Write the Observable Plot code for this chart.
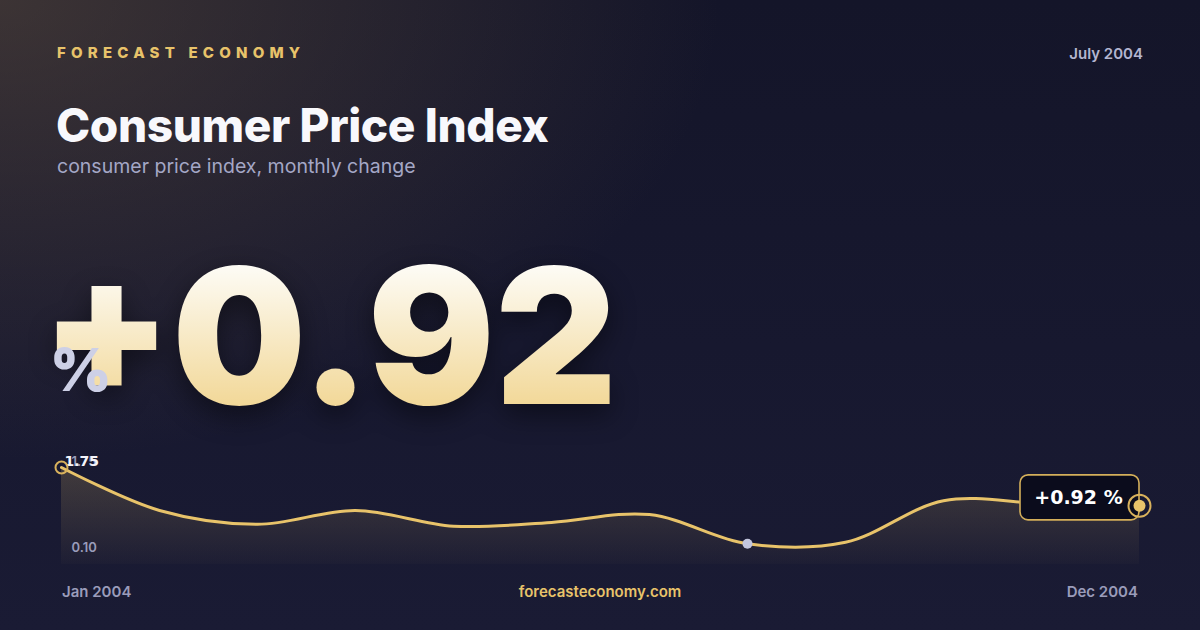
<!DOCTYPE html>
<html><head><meta charset="utf-8">
<script src="https://cdn.jsdelivr.net/npm/d3@7"></script>
<script src="https://cdn.jsdelivr.net/npm/@observablehq/plot@0.6"></script>
<style>
html,body{margin:0;padding:0;}
body{width:1200px;height:630px;overflow:hidden;position:relative;font-family:Inter,"Noto Sans",sans-serif;
background:
 radial-gradient(ellipse 720px 460px at 0% 0%, rgba(100,82,64,0.5), rgba(100,82,64,0) 100%),
 linear-gradient(180deg,#141529 0%,#17182f 55%,#1a1b34 100%);}
.brand{position:absolute;left:57px;top:43px;font-size:15px;font-weight:800;letter-spacing:5.2px;color:#e8c36a;white-space:nowrap;}
.date{position:absolute;right:57px;top:44px;font-size:15px;font-weight:600;color:#b3b5d0;}
.title{position:absolute;left:56px;top:97px;font-size:46px;font-weight:800;color:#f8f8fc;letter-spacing:-0.4px;white-space:nowrap;}
.sub{position:absolute;left:57px;top:154px;font-size:19.5px;font-weight:400;color:#a4a7c6;white-space:nowrap;}
.big{position:absolute;left:41px;top:241px;font-family:Inter,sans-serif;font-size:189px;font-weight:900;line-height:1;white-space:nowrap;
 background:linear-gradient(180deg,#fdfcf8 0%,#fdfbf4 14%,#f2d898 87%,#f2d898 100%);
 -webkit-background-clip:text;background-clip:text;color:transparent;
 filter:drop-shadow(0 10px 14px rgba(0,0,0,0.45));}
.pct{position:absolute;left:50px;top:340px;font-family:Inter,sans-serif;font-size:59px;font-weight:900;line-height:1;color:#cdd0e6;}
#chart{position:absolute;left:0;top:440px;}
.foot{position:absolute;top:582px;font-size:15px;font-weight:600;color:#9a9cba;}
.foot.l{left:62px;}
.foot.r{right:62px;}
.foot.c{left:0;width:1200px;text-align:center;color:#e8c36a;}
</style></head>
<body>
<div class="brand">FORECAST ECONOMY</div>
<div class="date" id="date"></div>
<div class="title">Consumer Price Index</div>
<div class="sub">consumer price index, monthly change</div>
<div class="big" id="big"></div>
<div class="pct">%</div>
<div id="chart"></div>
<div class="foot l" id="fl"></div>
<div class="foot c">forecasteconomy.com</div>
<div class="foot r" id="fr"></div>
<script>
const months = ["Jan","Feb","Mar","Apr","May","Jun","Jul","Aug","Sep","Oct","Nov","Dec"];
const values = [1.75,0.82,0.52,0.82,0.48,0.56,0.73,0.10,0.13,1.03,0.97,0.92];
const startLabel = "Jan 2004";
const endLabel = "Dec 2004";
const dateLabel = "July 2004";
const yDomain = [-0.35, 1.75];

const data = months.map((m,i)=>({month:m, value:values[i]}));
const last = data[data.length-1];
const first = data[0];
const minV = d3.min(values), maxV = d3.max(values);
const minD = data[values.indexOf(minV)];
const fmt = v => (v>=0?"+":"") + v.toFixed(2);

document.getElementById("big").textContent = fmt(last.value);
document.getElementById("date").textContent = dateLabel;
document.getElementById("fl").textContent = startLabel;
document.getElementById("fr").textContent = endLabel;

const gold = "#e8c36a";
const defs = () => {
  const d = d3.create("svg:defs");
  const g = d.append("linearGradient").attr("id","areaGrad").attr("x1",0).attr("y1",0).attr("x2",0).attr("y2",1);
  g.append("stop").attr("offset","0%").attr("stop-color","#e8c36a").attr("stop-opacity",0.2);
  g.append("stop").attr("offset","100%").attr("stop-color","#e8c36a").attr("stop-opacity",0.02);
  return d.node();
};
const box = (index, scales) => {
  const ex = scales.x(last.month), ey = scales.y(last.value);
  const w = 119, h = 45, cy = ey - 8;
  const g = d3.create("svg:g");
  g.append("rect").attr("x", ex - w).attr("y", cy - h/2).attr("width", w).attr("height", h)
   .attr("rx", 8).attr("fill", "#0b0c1c").attr("stroke", "#d4af5a").attr("stroke-width", 1.6);
  g.append("text").attr("x", ex - w/2 - 1).attr("y", cy).attr("dy","0.35em")
   .attr("text-anchor","middle").attr("fill","#ffffff")
   .attr("font-family","'DejaVu Sans', sans-serif").attr("font-weight",700).attr("font-size",19)
   .text(fmt(last.value) + " %");
  return g.node();
};

const plot = Plot.plot({
  width: 1200, height: 140,
  marginLeft: 60, marginRight: 60, marginTop: 27, marginBottom: 16,
  x: {type: "point", domain: months, padding: 0, axis: null},
  y: {domain: yDomain, axis: null},
  style: {background: "transparent", overflow: "visible", fontFamily: "Inter, sans-serif"},
  marks: [
    defs,
    Plot.areaY(data, {x: "month", y1: yDomain[0], y2: "value", curve: "catmull-rom", fill: "url(#areaGrad)"}),
    Plot.lineY(data, {x: "month", y: "value", curve: "catmull-rom", stroke: gold, strokeWidth: 3}),
    Plot.dot([minD], {x: "month", y: "value", r: 5, fill: "#c3c6de"}),
    Plot.text([minV], {x: () => first.month, y: d => d, text: d => d.toFixed(2), dx: 10, dy: 4, textAnchor: "start", fill: "#9a9cba", fontSize: 13, fontWeight: 600}),
    Plot.text([maxV], {x: () => first.month, y: d => d, text: d => d.toFixed(2), dx: 10, dy: -6, textAnchor: "start", fill: "#9a9cba", fontSize: 13, fontWeight: 600}),
    Plot.text([first], {x: "month", y: "value", text: d => d.value.toFixed(2), dx: 3, dy: -6, textAnchor: "start", fill: "#f4f4fa", fontSize: 14, fontWeight: 700, fontFamily: "DejaVu Sans"}),
    Plot.dot([first], {x: "month", y: "value", r: 6, stroke: "#d9b25c", strokeWidth: 2, fill: "none"}),
    box,
    Plot.dot([last], {x: "month", y: "value", r: 11, stroke: "#d9b25c", strokeWidth: 2, fill: "none"}),
    Plot.dot([last], {x: "month", y: "value", r: 6, fill: gold})
  ]
});
document.getElementById("chart").appendChild(plot);
</script>
</body></html>
